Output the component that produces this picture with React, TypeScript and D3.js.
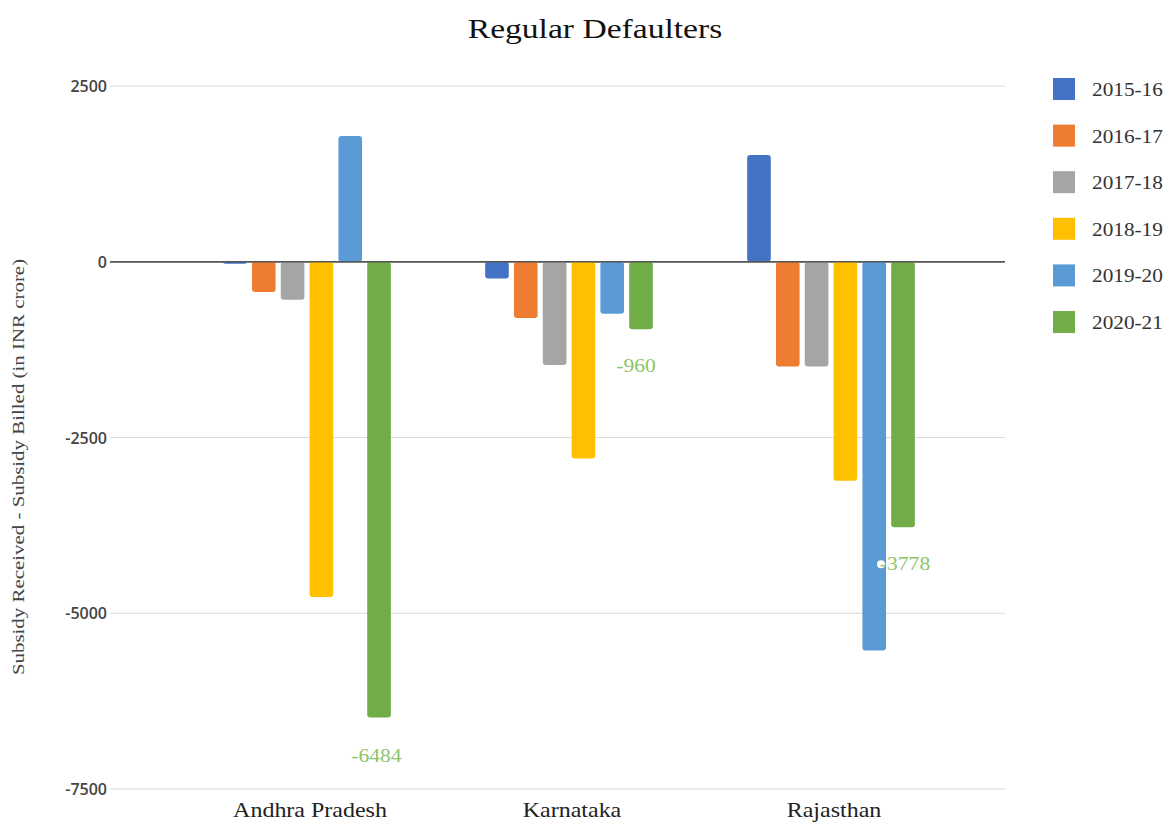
import React from "react";
import * as d3 from "d3";

const categories = ["Andhra Pradesh", "Karnataka", "Rajasthan"];
const seriesNames = ["2015-16", "2016-17", "2017-18", "2018-19", "2019-20", "2020-21"];
const seriesColors = ["#4472C4", "#ED7D31", "#A5A5A5", "#FFC000", "#5B9BD5", "#70AD47"];
const values2015 = [-30, -240, 1520];
const values2016 = [-430, -800, -1490];
const values2017 = [-540, -1470, -1490];
const values2018 = [-4770, -2800, -3115];
const values2019 = [1790, -740, -5530];
const values2020 = [-6484, -960, -3778];
const yTicks = [2500, 0, -2500, -5000, -7500];
const labelled = [
  { cat: "Andhra Pradesh", series: "2020-21", text: "-6484" },
  { cat: "Karnataka", series: "2020-21", text: "-960" },
  { cat: "Rajasthan", series: "2020-21", text: "-3778" },
];

const allValues = [values2015, values2016, values2017, values2018, values2019, values2020];

function SText(props: { x: number; y: number; sx: number; anchor?: string; size: number; family: string; fill: string; weight?: number; rotate?: number; children: React.ReactNode }) {
  const { x, y, sx, anchor, size, family, fill, weight, rotate, children } = props;
  return (
    <text
      transform={`translate(${x},${y})${rotate ? ` rotate(${rotate})` : ""} scale(${sx},1)`}
      textAnchor={anchor || "start"}
      fontFamily={family}
      fontSize={size}
      fontWeight={weight || 400}
      fill={fill}
    >
      {children}
    </text>
  );
}

export default function App() {
  const W = 1169, H = 825;
  const y = d3.scaleLinear().domain([-7500, 2500]).range([789, 86]);
  const x = d3.scaleBand<string>().domain(categories).range([176, 962]).paddingInner(0.36).paddingOuter(0.18);
  const xs = d3.scaleBand<string>().domain(seriesNames).range([0, x.bandwidth()]).paddingInner(0.18);
  const gridL = 110, gridR = 1005;
  const serif = "'Liberation Serif', 'Times New Roman', serif";
  const sans = "'Open Sans', 'DejaVu Sans', sans-serif";

  return (
    <svg width={W} height={H} style={{ position: "absolute", left: 0, top: 0, background: "#fff" }}>
      <rect x={0} y={0} width={W} height={H} fill="#fff" />
      <SText x={595} y={38} sx={1.2} anchor="middle" size={28} family={serif} fill="#111">Regular Defaulters</SText>
      {yTicks.map((t) => (
        <g key={t}>
          <line x1={gridL} x2={gridR} y1={y(t)} y2={y(t)} stroke={t === 0 ? "#555" : "#d9d9d9"} strokeWidth={t === 0 ? 1.5 : 1.2} />
          <text x={107} y={y(t) + 6} textAnchor="end" fontFamily={sans} fontSize={16} fontWeight={600} fill="#444">{t}</text>
        </g>
      ))}
      <SText x={24} y={467} sx={1.23} rotate={-90} anchor="middle" size={17} family={serif} fill="#444">
        Subsidy Received - Subsidy Billed (in INR crore)
      </SText>
      {categories.map((c, ci) => (
        <g key={c} transform={`translate(${x(c)},0)`}>
          {seriesNames.map((s, si) => {
            const v = allValues[si][ci];
            const y0 = y(0), y1 = y(v);
            const top = Math.min(y0, y1), h = Math.max(Math.abs(y1 - y0), 2);
            return <rect key={s} x={xs(s)} y={top} width={xs.bandwidth()} height={h} rx={3} fill={seriesColors[si]} />;
          })}
        </g>
      ))}
      <line x1={gridL} x2={gridR} y1={y(0)} y2={y(0)} stroke="#555" strokeWidth={1.5} />
      {labelled.map((l) => {
        const ci = categories.indexOf(l.cat);
        const si = seriesNames.indexOf(l.series);
        const v = allValues[si][ci];
        const bx = (x(l.cat) || 0) + (xs(l.series) || 0);
        const isLast = l.cat === "Rajasthan";
        const lx = isLast ? bx + xs.bandwidth() / 2 + 2 : l.cat === "Karnataka" ? bx - 13 : bx - 16;
        const ly = isLast ? y(v) + 43 : l.cat === "Karnataka" ? y(v) + 43 : y(v) + 44;
        return (
          <g key={l.cat}>
            {isLast && <circle cx={lx - 24} cy={ly - 6} r={4} fill="#fff" />}
            <SText x={lx} y={ly} sx={1.2} size={18} family={serif} fill="#8dc46a" anchor={isLast ? "middle" : "start"}>{l.text}</SText>
          </g>
        );
      })}
      {categories.map((c) => (
        <SText key={c} x={(x(c) || 0) + x.bandwidth() / 2 + 3} y={817} sx={1.2} anchor="middle" size={20} family={serif} fill="#222">{c}</SText>
      ))}
      {seriesNames.map((s, i) => (
        <g key={s} transform={`translate(1053,${78 + i * 46.6})`}>
          <rect x={0} y={0} width={22} height={22} fill={seriesColors[i]} />
          <SText x={39} y={18} sx={1.12} size={19} family={serif} fill="#333">{s}</SText>
        </g>
      ))}
    </svg>
  );
}
